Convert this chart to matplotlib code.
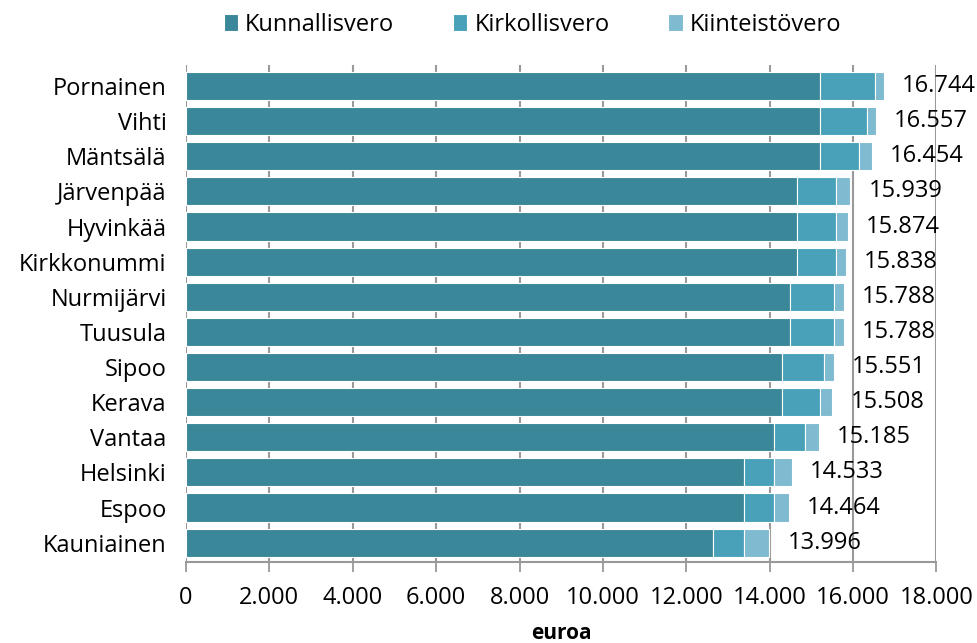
import numpy as np
import matplotlib
matplotlib.use("Agg")
import matplotlib.pyplot as plt
from matplotlib.ticker import FuncFormatter

plt.rcParams['font.family'] = ['Open Sans', 'DejaVu Sans']

kunnat = ['Pornainen', 'Vihti', 'Mäntsälä', 'Järvenpää', 'Hyvinkää', 'Kirkkonummi',
          'Nurmijärvi', 'Tuusula', 'Sipoo', 'Kerava', 'Vantaa', 'Helsinki', 'Espoo',
          'Kauniainen']
kunnallisvero = [15210, 15210, 15210, 14660, 14660, 14660, 14480, 14480, 14300, 14300,
                 14110, 13380, 13380, 12630]
kirkollisvero = [1310, 1120, 940, 940, 940, 940, 1070, 1070, 1000, 920, 750, 730, 730, 750]
yhteensa = [16744, 16557, 16454, 15939, 15874, 15838, 15788, 15788, 15551, 15508, 15185,
            14533, 14464, 13996]
kiinteistovero = [t - a - b for t, a, b in zip(yhteensa, kunnallisvero, kirkollisvero)]

c1, c2, c3 = '#3a8799', '#49a1b9', '#7ebbd0'

fig = plt.figure(figsize=(9.77, 6.43), dpi=100)
ax = fig.add_axes([0.1904, 0.126, 0.768, 0.773])

y = np.arange(len(kunnat))
h = 0.8
left2 = np.array(kunnallisvero)
left3 = left2 + np.array(kirkollisvero)
b1 = ax.barh(y, kunnallisvero, height=h, color=c1, edgecolor='white', linewidth=0.8, zorder=3)
b2 = ax.barh(y, kirkollisvero, left=left2, height=h, color=c2, edgecolor='white', linewidth=0.8, zorder=3)
b3 = ax.barh(y, kiinteistovero, left=left3, height=h, color=c3, edgecolor='white', linewidth=0.8, zorder=3)

for yi, t in zip(y, yhteensa):
    ax.text(t + 430, yi, f'{t/1000:.3f}', va='center', ha='left', fontsize=17, zorder=4)

ax.set_xlim(0, 18000)
ax.set_ylim(13.55, -0.6)
ax.set_xticks(np.arange(0, 18001, 2000))
ax.xaxis.set_major_formatter(FuncFormatter(lambda v, p: '0' if v == 0 else f'{v/1000:.3f}'))
ax.set_yticks(y)
ax.set_yticklabels(kunnat, fontsize=17)
ax.tick_params(axis='y', length=0, pad=14)
ax.tick_params(axis='x', labelsize=17, length=7, width=1.3, color='#999999', pad=10)
ax.grid(axis='x', color='#999999', linewidth=1.5, zorder=0)
for s in ['top', 'right', 'left']:
    ax.spines[s].set_visible(False)
ax.spines['bottom'].set_color('#999999')
ax.spines['bottom'].set_linewidth(1.5)
ax.set_xlabel('euroa', fontsize=15, fontweight='bold', labelpad=10)

fig.legend([b1, b2, b3], ['Kunnallisvero', 'Kirkollisvero', 'Kiinteistövero'],
           loc='upper center', bbox_to_anchor=(0.545, 1.013), ncol=3, frameon=False,
           fontsize=17, handlelength=0.6, handleheight=0.7, handletextpad=0.3,
           columnspacing=2.5)

fig.savefig('out.png', dpi=100)
